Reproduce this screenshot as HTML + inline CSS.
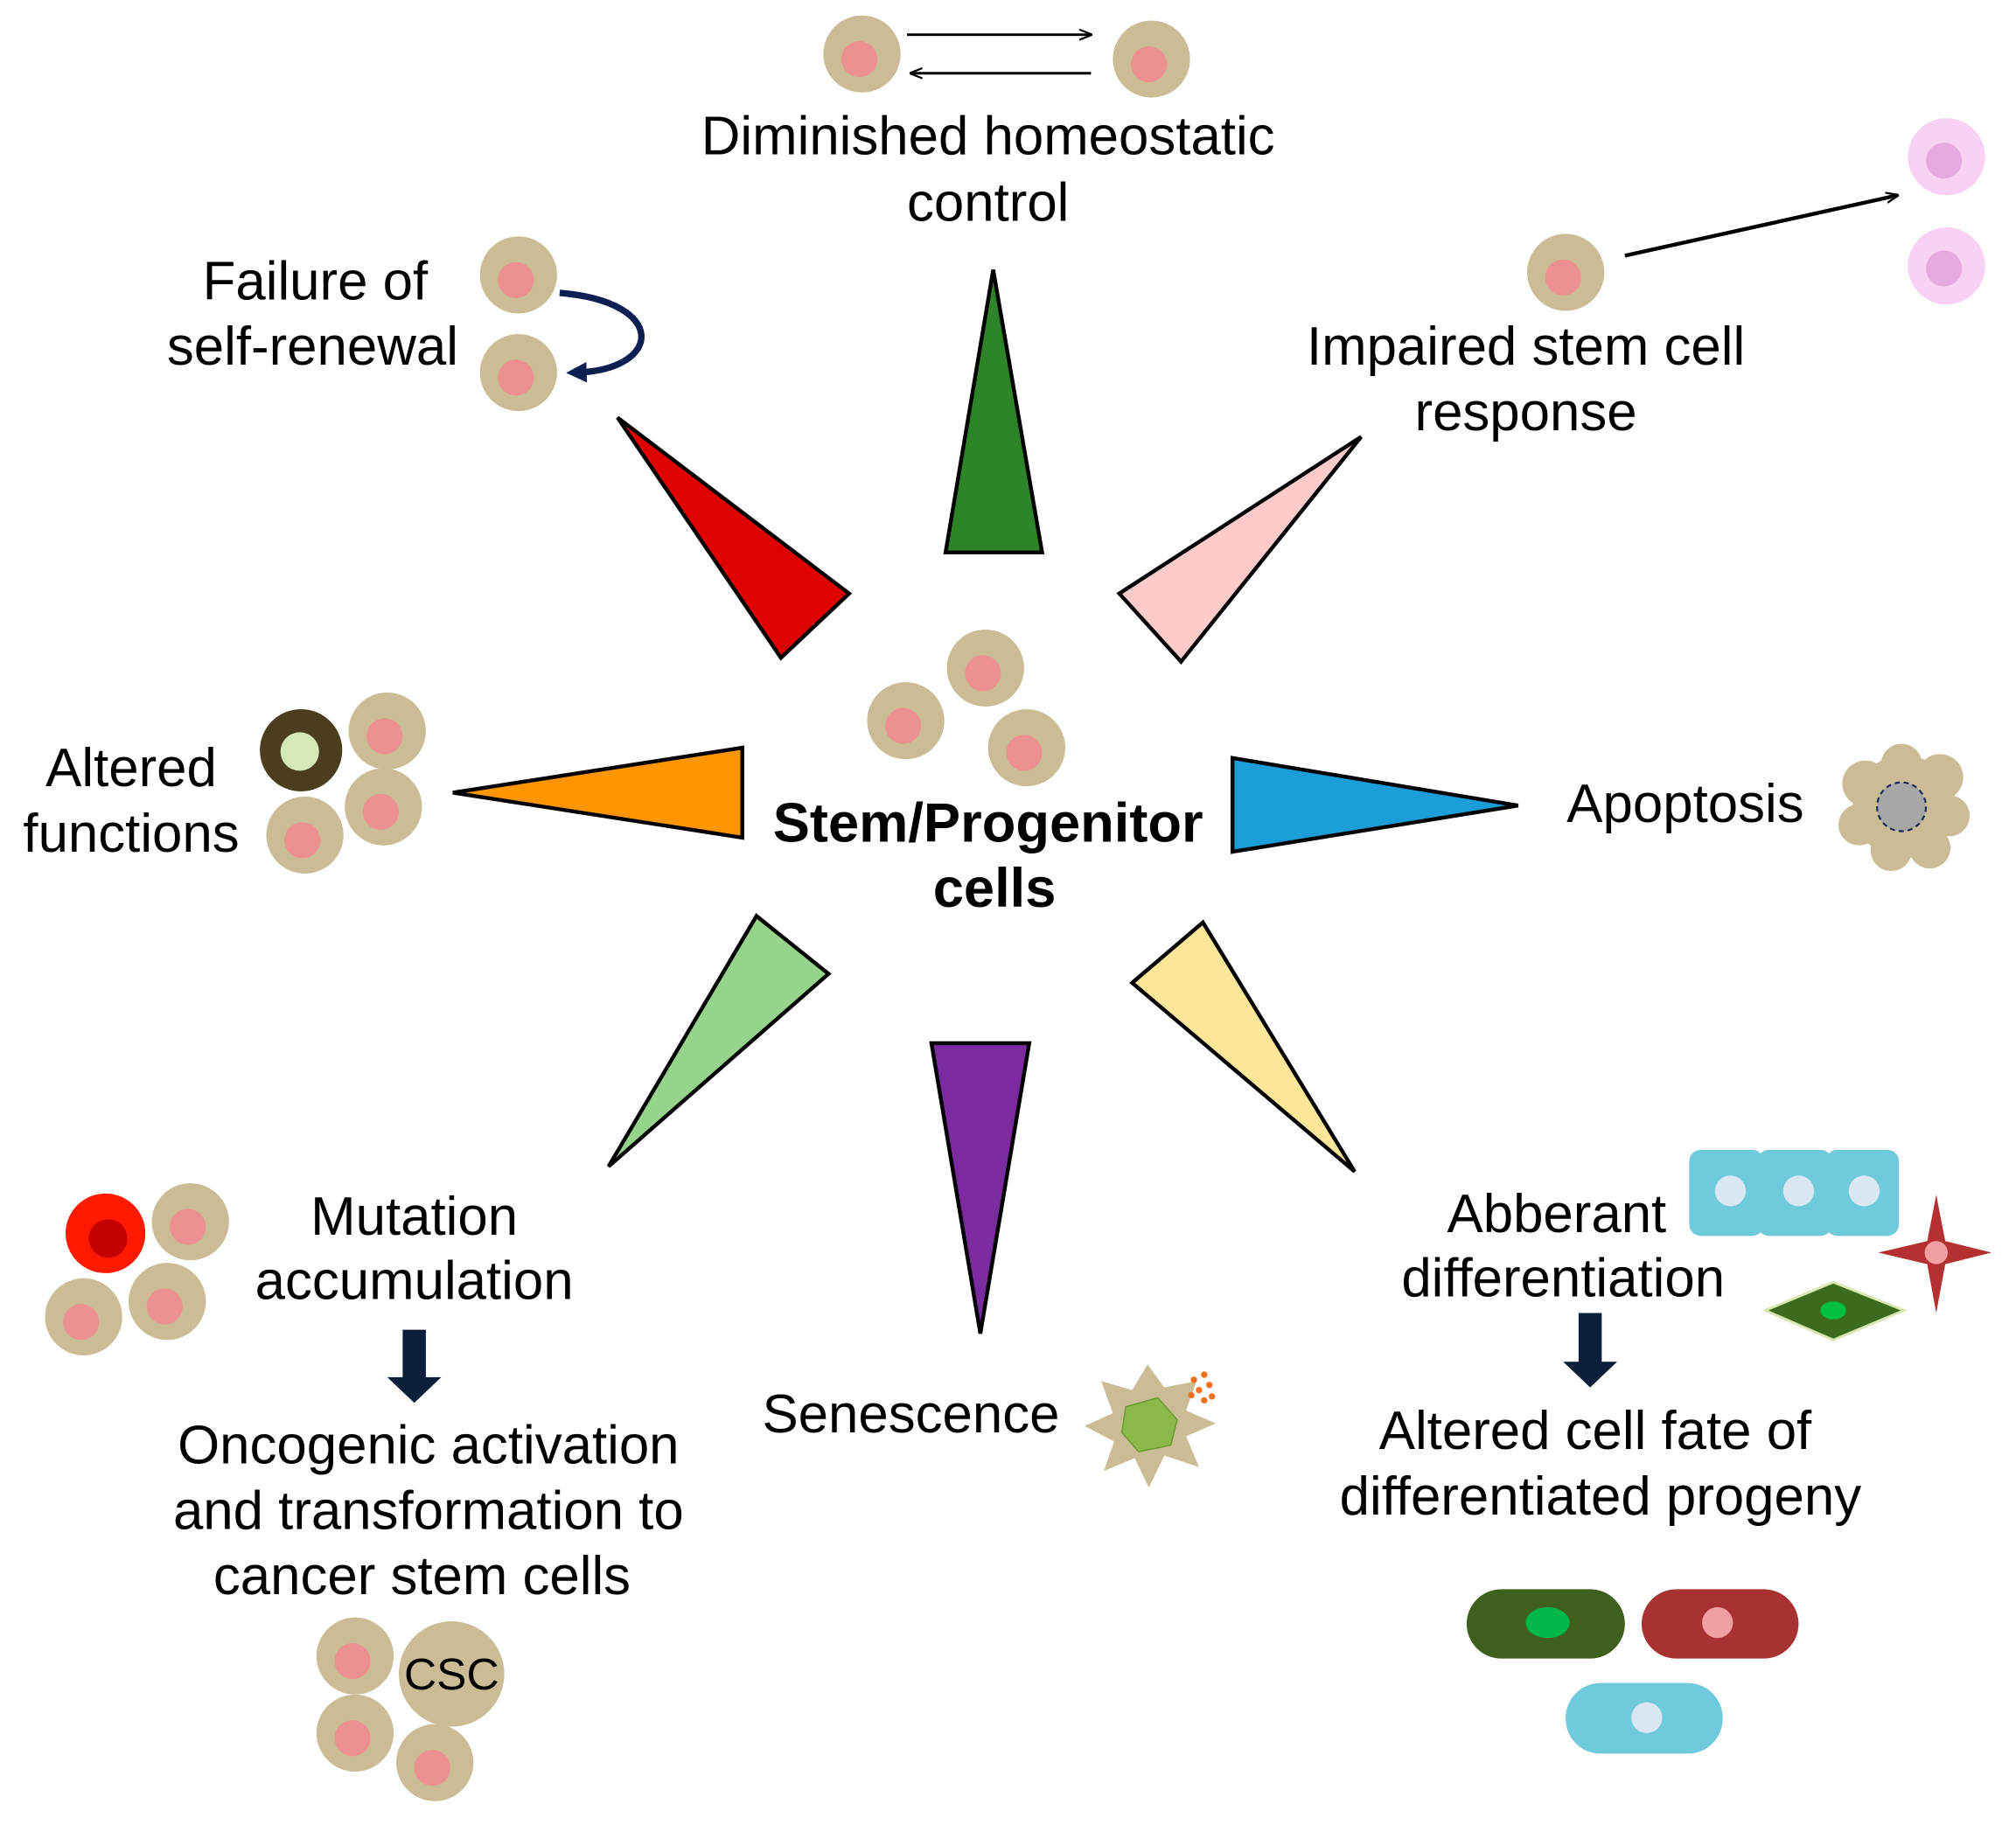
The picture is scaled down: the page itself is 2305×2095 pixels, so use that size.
<!DOCTYPE html>
<html><head><meta charset="utf-8"><style>
html,body{margin:0;padding:0;background:#fff;}
svg{display:block;}
text{font-family:"Liberation Sans",Arial,sans-serif;fill:#000;}
</style></head><body>
<svg width="2305" height="2095" viewBox="0 0 1567 1426" preserveAspectRatio="none" xmlns="http://www.w3.org/2000/svg">
<defs>
<g id="cell"><circle r="30" fill="#cabd95"/><circle r="14" cx="-2" cy="4" fill="#ec9090"/></g>
<marker id="ah" markerWidth="10" markerHeight="10" refX="9" refY="5" orient="auto" markerUnits="userSpaceOnUse"><path d="M0,1 L10,5 L0,9" fill="none" stroke="#000" stroke-width="1.5"/></marker>
<marker id="ahn" markerWidth="16" markerHeight="16" refX="8" refY="8" orient="auto" markerUnits="userSpaceOnUse"><path d="M0,0 L16,8 L0,16 Z" fill="#0d1f52"/></marker>
</defs>

<use href="#cell" x="670" y="42"/>
<use href="#cell" x="895" y="46"/>
<line x1="705" y1="27" x2="848" y2="27" stroke="#000" stroke-width="2" marker-end="url(#ah)"/>
<line x1="848" y1="57" x2="708" y2="57" stroke="#000" stroke-width="2" marker-end="url(#ah)"/>
<text x="768" y="120" font-size="42" text-anchor="middle">Diminished homeostatic</text>
<text x="768" y="172" font-size="42" text-anchor="middle">control</text>

<g stroke="#000" stroke-width="3" stroke-linejoin="miter">
<polygon points="772,210 735,430 810,430" fill="#2e8529"/>
<polygon points="480,325 660,462 607,512" fill="#e00000"/>
<polygon points="1058,340 870,462 918,515" fill="#ffcaca"/>
<polygon points="352,617 577,582 577,652" fill="#ff9600"/>
<polygon points="958,590 1180,627 958,663" fill="#1b9ed8"/>
<polygon points="473,908 588,713 644,758" fill="#96d48b"/>
<polygon points="724,812 800,812 762,1038" fill="#7b2aa0"/>
<polygon points="1053,912 880,765 935,718" fill="#ffe699"/>
</g>

<use href="#cell" x="766" y="520"/>
<use href="#cell" x="704" y="561"/>
<use href="#cell" x="798" y="582"/>
<text x="768" y="655" font-size="43" font-weight="bold" text-anchor="middle">Stem/Progenitor</text>
<text x="773" y="706" font-size="43" font-weight="bold" text-anchor="middle">cells</text>

<text x="245" y="233" font-size="42" text-anchor="middle">Failure of</text>
<text x="243" y="284" font-size="42" text-anchor="middle">self-renewal</text>
<use href="#cell" x="403" y="214"/>
<use href="#cell" x="403" y="290"/>
<path d="M435,228 C520,235 515,288 448,290" fill="none" stroke="#0d1f52" stroke-width="5" marker-end="url(#ahn)"/>

<use href="#cell" x="1217" y="212"/>
<line x1="1263" y1="199" x2="1475" y2="152" stroke="#000" stroke-width="3" marker-end="url(#ah)"/>
<circle cx="1513" cy="122" r="30" fill="#f9d1f3"/><circle cx="1511" cy="125" r="14" fill="#e6aade"/>
<circle cx="1513" cy="207" r="30" fill="#f9d1f3"/><circle cx="1511" cy="209" r="14" fill="#e6aade"/>
<text x="1186" y="284" font-size="42" text-anchor="middle">Impaired stem cell</text>
<text x="1186" y="335" font-size="42" text-anchor="middle">response</text>

<text x="102" y="612" font-size="42" text-anchor="middle">Altered</text>
<text x="102" y="663" font-size="42" text-anchor="middle">functions</text>
<circle cx="234" cy="584" r="32" fill="#4a3e1f"/><circle cx="233" cy="585" r="15" fill="#d4e8b8"/>
<use href="#cell" x="301" y="569"/>
<use href="#cell" x="298" y="628"/>
<use href="#cell" x="237" y="650"/>

<text x="1310" y="640" font-size="42" text-anchor="middle">Apoptosis</text>
<g fill="#cabd95">
<circle cx="1480" cy="628" r="40"/>
<circle cx="1450" cy="610" r="18"/><circle cx="1478" cy="595" r="16"/><circle cx="1508" cy="605" r="18"/>
<circle cx="1515" cy="635" r="16"/><circle cx="1500" cy="660" r="16"/><circle cx="1470" cy="662" r="16"/><circle cx="1445" cy="642" r="16"/>
</g>
<circle cx="1478" cy="628" r="19" fill="#a6a6a6" stroke="#1d2b5a" stroke-width="1.5" stroke-dasharray="4,3"/>

<text x="322" y="961" font-size="42" text-anchor="middle">Mutation</text>
<text x="322" y="1011" font-size="42" text-anchor="middle">accumulation</text>
<circle cx="82" cy="960" r="31" fill="#ff1a00"/><circle cx="84" cy="964" r="15" fill="#c40000"/>
<use href="#cell" x="148" y="951"/>
<use href="#cell" x="130" y="1013"/>
<use href="#cell" x="65" y="1025"/>
<polygon points="313,1035 331,1035 331,1072 343,1072 322,1092 301,1072 313,1072" fill="#0b1f3b"/>
<text x="333" y="1139" font-size="42" text-anchor="middle">Oncogenic activation</text>
<text x="333" y="1190" font-size="42" text-anchor="middle">and transformation to</text>
<text x="328" y="1241" font-size="42" text-anchor="middle">cancer stem cells</text>
<use href="#cell" x="276" y="1289"/>
<use href="#cell" x="276" y="1349"/>
<use href="#cell" x="338" y="1372"/>
<circle cx="351" cy="1303" r="41" fill="#cabd95"/>
<text x="351" y="1315" font-size="35" text-anchor="middle">CSC</text>

<text x="708" y="1115" font-size="42" text-anchor="middle">Senescence</text>
<polygon points="892,1062 905,1080 930,1075 922,1098 945,1108 922,1118 932,1142 905,1133 893,1158 882,1135 858,1145 866,1122 843,1110 865,1100 856,1075 880,1082" fill="#cabd95"/>
<path d="M875,1095 L900,1088 L915,1105 L910,1125 L885,1130 L872,1115 Z" fill="#8cb84a" stroke="#6a9a30" stroke-width="1"/>
<g fill="#f07020"><circle cx="928" cy="1074" r="2.5"/><circle cx="936" cy="1070" r="2.5"/><circle cx="940" cy="1078" r="2.5"/><circle cx="932" cy="1082" r="2.5"/><circle cx="926" cy="1086" r="2.5"/><circle cx="942" cy="1087" r="2.5"/><circle cx="936" cy="1090" r="2.5"/></g>

<text x="1210" y="959" font-size="42" text-anchor="middle">Abberant</text>
<text x="1215" y="1009" font-size="42" text-anchor="middle">differentiation</text>
<g fill="#6fcbdc">
<rect x="1313" y="895" width="58" height="67" rx="9"/>
<rect x="1366" y="895" width="58" height="67" rx="9"/>
<rect x="1419" y="895" width="57" height="67" rx="9"/>
</g>
<g fill="#dae6f2"><circle cx="1345" cy="927" r="12"/><circle cx="1398" cy="927" r="12"/><circle cx="1449" cy="927" r="12"/></g>
<polygon points="1505,930 1512,966 1548,975 1512,984 1505,1022 1498,984 1460,975 1498,966" fill="#b53030"/>
<circle cx="1505" cy="975" r="9" fill="#f0a0a0"/>
<polygon points="1372,1020 1425,998 1480,1020 1425,1043" fill="#3d6b1d" stroke="#d8e8b0" stroke-width="2"/>
<ellipse cx="1425" cy="1020" rx="10" ry="7" fill="#00c040"/>
<polygon points="1227,1022 1245,1022 1245,1060 1257,1060 1236,1080 1215,1060 1227,1060" fill="#0b1f3b"/>
<text x="1240" y="1128" font-size="42" text-anchor="middle">Altered cell fate of</text>
<text x="1244" y="1179" font-size="42" text-anchor="middle">differentiated progeny</text>
<rect x="1140" y="1237" width="123" height="54" rx="27" fill="#3f5f1d"/>
<ellipse cx="1203" cy="1263" rx="17" ry="12" fill="#00b94a"/>
<rect x="1276" y="1237" width="122" height="54" rx="27" fill="#a83232"/>
<circle cx="1335" cy="1263" r="12" fill="#f0a0a0"/>
<rect x="1217" y="1310" width="122" height="55" rx="27" fill="#6fcbdc"/>
<circle cx="1280" cy="1337" r="12" fill="#dae6f2"/>
</svg>
</body></html>
